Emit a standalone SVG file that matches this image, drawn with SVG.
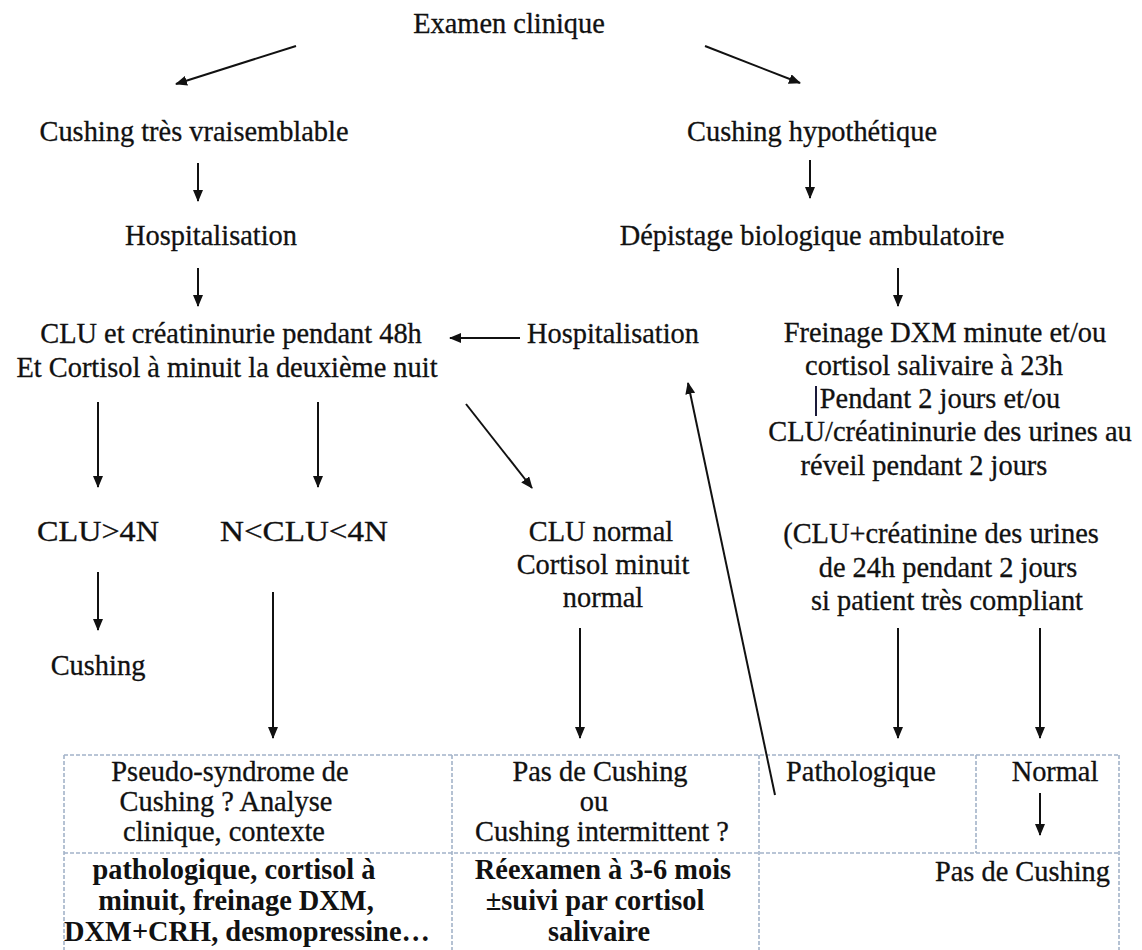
<svg xmlns="http://www.w3.org/2000/svg" width="1142" height="950" viewBox="0 0 1142 950">
  <style>
    text { font-size: 28.4px; fill: #111; stroke: #111; stroke-width: 0.3px; text-anchor: middle; }
    .heavy { font-weight: bold; stroke-width: 0; }
    .right { text-anchor: end; }
    .arrow { stroke: #111; stroke-width: 2; fill: none; marker-end: url(#head); }
    .grid { stroke: #a3b3c9; stroke-width: 1.6; stroke-dasharray: 4 2; fill: none; }
  </style>
  <defs>
    <marker id="head" viewBox="0 0 12 10" refX="11" refY="5" markerWidth="6" markerHeight="5" orient="auto" markerUnits="strokeWidth">
      <path d="M0,0 L12,5 L0,10 Z" fill="#111"/>
    </marker>
  </defs>
  <rect width="1142" height="950" fill="#fff"/>

  <g font-family="Liberation Serif, serif">
  <!-- decision tree nodes -->
  <g id="examen"><text x="509" y="33">Examen clinique</text></g>
  <g id="cushing-vraisemblable"><text x="194" y="141">Cushing très vraisemblable</text></g>
  <g id="cushing-hypothetique"><text x="812" y="141">Cushing hypothétique</text></g>
  <g id="hospitalisation-1"><text x="211" y="245">Hospitalisation</text></g>
  <g id="depistage"><text x="812" y="245">Dépistage biologique ambulatoire</text></g>
  <g id="clu-48h">
    <text x="231" y="343">CLU et créatininurie pendant 48h</text>
    <text x="227" y="377">Et Cortisol à minuit la deuxième nuit</text>
  </g>
  <g id="hospitalisation-2"><text x="613" y="343">Hospitalisation</text></g>
  <g id="freinage">
    <text x="945" y="342">Freinage DXM minute et/ou</text>
    <text x="934" y="375">cortisol salivaire à 23h</text>
    <text x="940" y="408">Pendant 2 jours et/ou</text>
    <text x="950" y="441">CLU/créatininurie des urines au</text>
    <text x="924" y="475">réveil pendant 2 jours</text>
    <line x1="816" y1="386" x2="816" y2="416" stroke="#1a1a3a" stroke-width="2"/>
  </g>
  <g id="clu-sup-4n"><text x="98" y="541" textLength="122" lengthAdjust="spacingAndGlyphs">CLU&gt;4N</text></g>
  <g id="clu-entre"><text x="304" y="541" textLength="168" lengthAdjust="spacingAndGlyphs">N&lt;CLU&lt;4N</text></g>
  <g id="clu-normal">
    <text x="601" y="541">CLU normal</text>
    <text x="603" y="574">Cortisol minuit</text>
    <text x="603" y="607">normal</text>
  </g>
  <g id="clu-24h">
    <text x="941" y="543">(CLU+créatinine des urines</text>
    <text x="948" y="577">de 24h pendant 2 jours</text>
    <text x="947" y="610">si patient très compliant</text>
  </g>
  <g id="cushing"><text x="98" y="675">Cushing</text></g>

  <!-- results table -->
  <g id="table">
    <path class="grid" d="M64,755 H1119 M64,853 H1119 M64,755 V950 M1119,755 V950 M452,755 V950 M759,755 V950 M976,755 V853"/>
  </g>
  <g id="pseudo-cushing">
    <text x="230" y="781">Pseudo-syndrome de</text>
    <text x="226" y="811">Cushing ? Analyse</text>
    <text x="224" y="841">clinique, contexte</text>
    <text class="heavy" x="234" y="879">pathologique, cortisol à</text>
    <text class="heavy" x="236" y="910">minuit, freinage DXM,</text>
    <text class="heavy" x="247" y="941">DXM+CRH, desmopressine…</text>
  </g>
  <g id="pas-de-cushing-intermittent">
    <text x="600" y="781">Pas de Cushing</text>
    <text x="594" y="811">ou</text>
    <text x="602" y="841">Cushing intermittent ?</text>
    <text class="heavy" x="603" y="879">Réexamen à 3-6 mois</text>
    <text class="heavy" x="595" y="910">±suivi par cortisol</text>
    <text class="heavy" x="599" y="941">salivaire</text>
  </g>
  <g id="pathologique"><text x="861" y="781">Pathologique</text></g>
  <g id="normal"><text x="1055" y="781">Normal</text></g>
  <g id="pas-de-cushing"><text class="right" x="1110" y="881">Pas de Cushing</text></g>
  </g>

  <!-- connectors -->
  <g id="connectors">
    <line class="arrow" x1="296" y1="46" x2="176" y2="84"/>
    <line class="arrow" x1="705" y1="46" x2="800" y2="83"/>
    <line class="arrow" x1="198" y1="163" x2="198" y2="201"/>
    <line class="arrow" x1="810" y1="160" x2="810" y2="198"/>
    <line class="arrow" x1="198" y1="268" x2="198" y2="306"/>
    <line class="arrow" x1="898" y1="268" x2="898" y2="306"/>
    <line class="arrow" x1="520" y1="338" x2="450" y2="338"/>
    <line class="arrow" x1="98" y1="402" x2="98" y2="487"/>
    <line class="arrow" x1="318" y1="402" x2="318" y2="487"/>
    <line class="arrow" x1="466" y1="404" x2="532" y2="488"/>
    <line class="arrow" x1="98" y1="572" x2="98" y2="630"/>
    <line class="arrow" x1="273" y1="592" x2="273" y2="738"/>
    <line class="arrow" x1="580" y1="628" x2="580" y2="738"/>
    <line class="arrow" x1="898" y1="628" x2="898" y2="738"/>
    <line class="arrow" x1="1040" y1="628" x2="1040" y2="738"/>
    <line class="arrow" x1="775" y1="795" x2="688" y2="383"/>
    <line class="arrow" x1="1040" y1="793" x2="1040" y2="835"/>
  </g>
</svg>
